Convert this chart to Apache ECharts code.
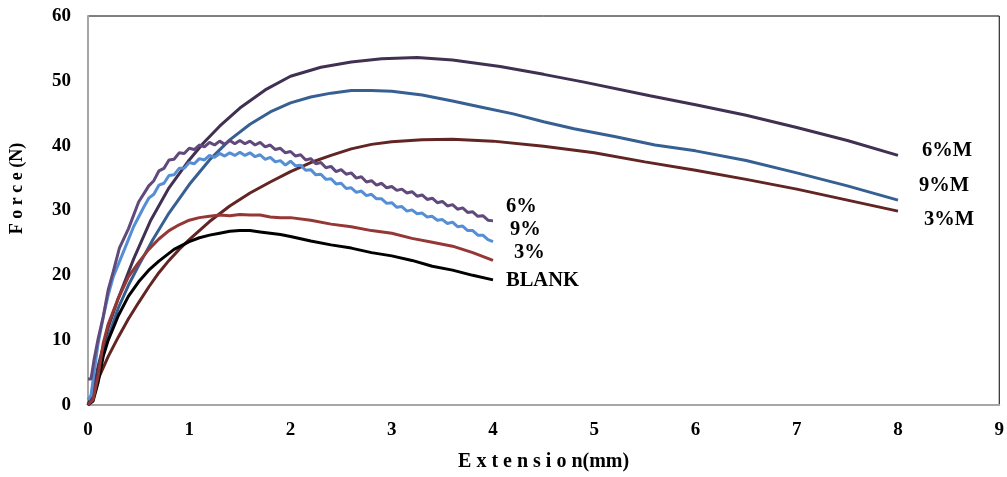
<!DOCTYPE html>
<html>
<head>
<meta charset="utf-8">
<script src="https://cdn.jsdelivr.net/npm/echarts@6/dist/echarts.min.js"></script>
<style>
  html, body { margin: 0; padding: 0; background: #fff; }
  #forceChart { width: 1007px; height: 477px; }
</style>
</head>
<body>
<div id="forceChart"></div>
<script>
// Force vs extension curves, [extension mm, force N]
var blank = [[0,0],[0.05,0.6],[0.1,3.5],[0.15,7.5],[0.2,10],[0.3,13.8],[0.4,16.8],[0.5,19],[0.6,20.8],[0.7,22.2],[0.85,24],[1.0,25.2],[1.1,25.8],[1.2,26.2],[1.3,26.5],[1.4,26.8],[1.5,26.9],[1.6,26.9],[1.7,26.7],[1.8,26.5],[1.9,26.3],[2.0,26.0],[2.2,25.3],[2.4,24.7],[2.6,24.2],[2.8,23.5],[3.0,23.0],[3.2,22.3],[3.4,21.4],[3.6,20.8],[3.8,20.0],[4.0,19.3]];
var p3 = [[0,0],[0.05,0.8],[0.1,4.5],[0.15,9.5],[0.2,12.5],[0.3,16.5],[0.4,19.8],[0.5,22],[0.6,24],[0.7,25.6],[0.8,26.9],[0.9,27.8],[1.0,28.5],[1.1,28.9],[1.2,29.1],[1.3,29.3],[1.4,29.2],[1.5,29.4],[1.6,29.3],[1.7,29.3],[1.8,29.0],[1.9,28.9],[2.0,28.9],[2.2,28.5],[2.4,27.9],[2.6,27.5],[2.8,26.9],[3.0,26.5],[3.2,25.7],[3.4,25.1],[3.6,24.5],[3.8,23.5],[4.0,22.3]];
var p9 = [[0,0.8],[0.03,1.5],[0.06,5],[0.1,9.5],[0.15,13.5],[0.2,17],[0.25,19.8],[0.36,24],[0.45,27.5],[0.55,30.5],
  [0.6,31.9],[0.65,32.5],[0.7,33.9],[0.75,34.2],[0.8,35.4],[0.85,35.5],[0.9,36.5],[0.95,36.5],[1.0,37.4],[1.05,37.2],
  [1.1,38.0],[1.15,37.8],[1.2,38.5],[1.25,38.2],[1.3,38.8],[1.35,38.4],[1.4,38.9],[1.45,38.5],[1.5,39.0],[1.55,38.5],
  [1.6,38.9],[1.65,38.3],[1.7,38.6],[1.75,37.9],[1.8,38.2],[1.85,37.5],[1.9,37.7],[1.95,37.0],[2.0,37.6],[2.05,36.9],
  [2.1,37.0],[2.15,36.2],[2.2,36.3],[2.25,35.5],[2.3,35.6],[2.35,34.8],[2.4,34.9],[2.45,34.1],[2.5,34.2],[2.55,33.4],
  [2.6,33.5],[2.65,32.8],[2.7,33.0],[2.75,32.3],[2.8,32.5],[2.85,31.8],[2.9,31.8],[2.95,31.1],[3.0,31.2],[3.05,30.5],
  [3.1,30.6],[3.15,29.9],[3.2,30.1],[3.25,29.5],[3.3,29.6],[3.35,29.0],[3.4,29.1],[3.45,28.5],[3.5,28.6],[3.55,28.0],
  [3.6,28.2],[3.65,27.5],[3.7,27.6],[3.75,26.9],[3.8,26.9],[3.85,26.2],[3.9,26.2],[3.95,25.5],[4.0,25.2]];
var p6 = [[0,4],[0.03,4],[0.06,7],[0.1,10.2],[0.15,13.6],[0.2,17.8],[0.25,20.6],[0.31,24.2],[0.4,27.2],[0.5,31.3],
  [0.6,33.8],[0.65,34.6],[0.7,36.1],[0.75,36.5],[0.8,37.8],[0.85,37.9],[0.9,38.9],[0.95,38.8],[1.0,39.6],[1.05,39.4],
  [1.1,40.1],[1.15,39.8],[1.2,40.5],[1.25,40.1],[1.3,40.7],[1.35,40.2],[1.4,40.8],[1.45,40.3],[1.5,40.8],[1.55,40.3],
  [1.6,40.7],[1.65,40.1],[1.7,40.5],[1.75,39.8],[1.8,40.1],[1.85,39.4],[1.9,39.6],[1.95,38.9],[2.0,39.1],[2.05,38.4],
  [2.1,38.6],[2.15,37.8],[2.2,38.0],[2.25,37.2],[2.3,37.4],[2.35,36.6],[2.4,36.8],[2.45,36.0],[2.5,36.3],[2.55,35.6],
  [2.6,35.8],[2.65,35.0],[2.7,35.2],[2.75,34.4],[2.8,34.6],[2.85,33.9],[2.9,34.2],[2.95,33.5],[3.0,33.7],[3.05,33.1],
  [3.1,33.3],[3.15,32.7],[3.2,32.9],[3.25,32.2],[3.3,32.4],[3.35,31.7],[3.4,31.9],[3.45,31.2],[3.5,31.4],[3.55,30.7],
  [3.6,30.9],[3.65,30.2],[3.7,30.4],[3.75,29.7],[3.8,29.8],[3.85,29.1],[3.9,29.2],[3.95,28.5],[4.0,28.4]];
var p3m = [[0,0],[0.05,1.5],[0.1,4],[0.2,7.5],[0.3,10.5],[0.4,13.3],[0.5,15.8],[0.6,18.2],[0.7,20.4],[0.8,22.3],[0.9,24],[1.0,25.5],[1.2,28.3],[1.4,30.7],[1.6,32.7],[1.8,34.4],[2.0,36],[2.2,37.4],[2.4,38.5],[2.6,39.5],[2.8,40.2],[3.0,40.6],[3.3,40.9],[3.6,41],[4.0,40.7],[4.5,39.9],[5.0,38.9],[5.5,37.5],[6.0,36.2],[6.5,34.8],[7.0,33.3],[7.5,31.6],[8.0,29.9]];
var p9m = [[0,0],[0.05,2],[0.1,5],[0.2,10.5],[0.3,15],[0.4,18.5],[0.5,21.5],[0.64,25.5],[0.8,29.6],[1.0,34],[1.2,37.8],[1.4,40.9],[1.6,43.3],[1.8,45.2],[2.0,46.6],[2.2,47.5],[2.4,48.1],[2.6,48.5],[2.8,48.5],[3.0,48.4],[3.3,47.8],[3.6,46.9],[3.9,45.9],[4.2,44.9],[4.5,43.7],[4.8,42.6],[5.2,41.4],[5.6,40.1],[6.0,39.2],[6.5,37.7],[7.0,35.8],[7.5,33.8],[8.0,31.6]];
var p6m = [[0,0],[0.05,2],[0.1,6],[0.2,12],[0.3,16.5],[0.45,22.5],[0.62,28.5],[0.8,33.5],[1.0,37.8],[1.14,40.4],[1.3,43],[1.5,45.8],[1.75,48.6],[2.0,50.7],[2.3,52.1],[2.6,52.9],[2.9,53.4],[3.25,53.6],[3.6,53.2],[4.07,52.2],[4.5,51],[4.9,49.8],[5.55,47.7],[6.0,46.3],[6.5,44.7],[7.0,42.8],[7.5,40.8],[8.0,38.5]];

var font = 'Liberation Serif, Times New Roman, serif';

function curve(name, data, color, offset) {
  return {
    name: name,
    type: 'line',
    data: data,
    showSymbol: false,
    lineStyle: { color: color, width: 3 },
    itemStyle: { color: color },
    endLabel: {
      show: true,
      formatter: name,
      offset: offset,
      color: '#000',
      fontFamily: font,
      fontWeight: 'bold',
      fontSize: 20.5
    }
  };
}

document.addEventListener("DOMContentLoaded", () => {
  echarts.init(document.querySelector("#forceChart")).setOption({
    animation: false,
    grid: {
      left: 87,
      right: 6,
      top: 16,
      bottom: 72,
      show: true,
      borderColor: '#000',
      borderWidth: 1
    },
    xAxis: {
      type: 'value',
      min: 0,
      max: 9,
      interval: 1,
      name: 'E x t e n s i o n(mm)',
      nameLocation: 'middle',
      nameGap: 47,
      nameTextStyle: { fontFamily: font, fontWeight: 'bold', fontSize: 20, color: '#000' },
      axisLine: { lineStyle: { color: '#a6a6a6', width: 2 } },
      axisTick: { show: false },
      splitLine: { show: false },
      axisLabel: { margin: 16, fontFamily: font, fontWeight: 'bold', fontSize: 19, color: '#000' }
    },
    yAxis: {
      type: 'value',
      min: 0,
      max: 60,
      interval: 10,
      name: 'F o r c e (N)',
      nameLocation: 'middle',
      nameGap: 62,
      nameTextStyle: { fontFamily: font, fontWeight: 'bold', fontSize: 18, color: '#000', padding: [0, 0, 0, 44] },
      axisLine: { lineStyle: { color: '#a6a6a6', width: 2 } },
      axisTick: { show: false },
      splitLine: { show: false },
      axisLabel: { margin: 17, fontFamily: font, fontWeight: 'bold', fontSize: 19, color: '#000' }
    },
    series: [
      curve('3%M', p3m, '#632523', [18, 9]),
      curve('9%M', p9m, '#376092', [13, -14]),
      curve('6%M', p6m, '#403152', [16, -5]),
      curve('BLANK', blank, '#000000', [5, 1]),
      curve('3%', p3, '#953735', [13, -8]),
      curve('9%', p9, '#558ed5', [9, -12]),
      curve('6%', p6, '#604a7b', [5, -14])
    ]
  });
});
</script>
</body>
</html>
